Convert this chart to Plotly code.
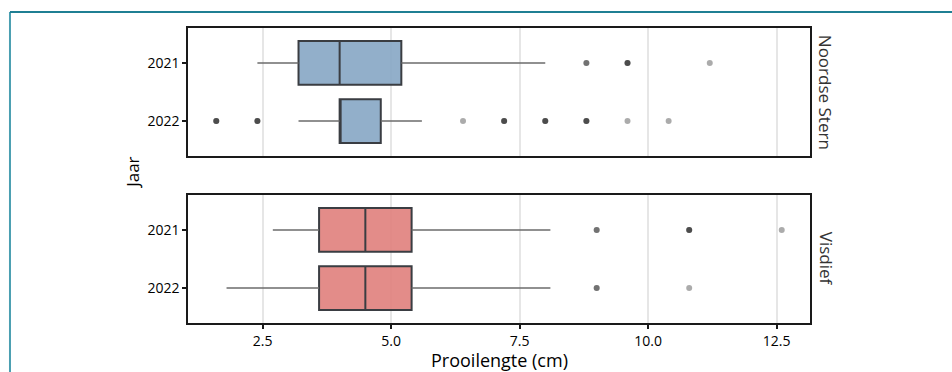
import plotly.graph_objects as go
from plotly.subplots import make_subplots

# Prey length summaries per tern species and year
years = ["2021", "2022"]
species = ["Noordse Stern", "Visdief"]

ns_lower = [2.4, 3.2]
ns_q1 = [3.2, 4.0]
ns_median = [4.0, 4.0]
ns_q3 = [5.2, 4.8]
ns_upper = [8.0, 5.6]

vd_lower = [2.7, 1.8]
vd_q1 = [3.6, 3.6]
vd_median = [4.5, 4.5]
vd_q3 = [5.4, 5.4]
vd_upper = [8.1, 8.1]

# Outlying prey lengths (repeated values are separate observations)
ns_out_2021 = [8.8, 8.8, 9.6, 9.6, 9.6, 11.2]
ns_out_2022 = [1.6, 1.6, 1.6, 2.4, 2.4, 2.4, 6.4, 7.2, 7.2, 7.2,
               8.0, 8.0, 8.0, 8.8, 8.8, 8.8, 9.6, 10.4]
vd_out_2021 = [9.0, 9.0, 10.8, 10.8, 10.8, 12.6]
vd_out_2022 = [9.0, 9.0, 10.8]

x_ticks = [2.5, 5.0, 7.5, 10.0, 12.5]
x_tick_labels = ["2.5", "5.0", "7.5", "10.0", "12.5"]

panels = [
    dict(name=species[0], lower=ns_lower, q1=ns_q1, median=ns_median, q3=ns_q3,
         upper=ns_upper, outliers=[ns_out_2021, ns_out_2022],
         fill="rgba(134,166,196,0.9)"),
    dict(name=species[1], lower=vd_lower, q1=vd_q1, median=vd_median, q3=vd_q3,
         upper=vd_upper, outliers=[vd_out_2021, vd_out_2022],
         fill="rgba(224,128,124,0.9)"),
]

FONT = "Open Sans"

fig = make_subplots(rows=2, cols=1)

for row, p in enumerate(panels, start=1):
    # whiskers
    wx, wy = [], []
    for i, yr in enumerate(years):
        wx += [p["lower"][i], p["q1"][i], None, p["q3"][i], p["upper"][i], None]
        wy += [yr, yr, None, yr, yr, None]
    fig.add_trace(go.Scatter(x=wx, y=wy, mode="lines",
                             line=dict(color="#6b6b6b", width=1.5),
                             hoverinfo="skip", showlegend=False), row=row, col=1)
    # boxes
    fig.add_trace(go.Box(y=years, q1=p["q1"], median=p["median"], q3=p["q3"],
                         lowerfence=p["q1"], upperfence=p["q3"],
                         orientation="h", width=0.75, whiskerwidth=0,
                         fillcolor=p["fill"], name=p["name"],
                         line=dict(color="#3a3d42", width=2),
                         boxpoints=False, showlegend=False), row=row, col=1)
    # outliers
    for i, yr in enumerate(years):
        vals = p["outliers"][i]
        fig.add_trace(go.Scatter(x=vals, y=[yr] * len(vals), mode="markers",
                                 marker=dict(color="black", size=6, opacity=0.33,
                                             line=dict(width=0)),
                                 showlegend=False), row=row, col=1)

axis_line = dict(showline=True, mirror=True, linecolor="#1a1a1a", linewidth=1.5)

for row in (1, 2):
    fig.update_xaxes(range=[1.05, 13.15], tickvals=x_ticks, ticktext=x_tick_labels,
                     showgrid=True, gridcolor="#e6e6e6", gridwidth=1.5,
                     zeroline=False, row=row, col=1, **axis_line)
    fig.update_yaxes(type="category", categoryorder="array", categoryarray=years,
                     range=[1.6, -0.6], showgrid=False, zeroline=False,
                     ticks="outside", ticklen=4, tickwidth=1.5, tickcolor="#1a1a1a",
                     tickfont=dict(family=FONT, size=14, color="black"),
                     row=row, col=1, **axis_line)

fig.update_xaxes(showticklabels=False, ticks="", row=1, col=1)
fig.update_xaxes(ticks="outside", ticklen=4, tickwidth=1.5, tickcolor="#1a1a1a",
                 tickfont=dict(family=FONT, size=14, color="black"), row=2, col=1)

fig.update_layout(
    width=952, height=372,
    margin=dict(l=188, r=142, t=28, b=49),
    paper_bgcolor="white", plot_bgcolor="white",
    xaxis=dict(domain=[0, 1]), xaxis2=dict(domain=[0, 1]),
    yaxis=dict(domain=[0.566, 1.0]), yaxis2=dict(domain=[0.0, 0.434]),
    font=dict(family=FONT, color="black"),
    showlegend=False,
)

annotations = [
    dict(text=species[0], x=1.026, y=0.783, textangle=90,
         font=dict(size=17, color="#333333")),
    dict(text=species[1], x=1.026, y=0.217, textangle=90,
         font=dict(size=17, color="#333333")),
    dict(text="Jaar", x=-0.0905, y=0.508, textangle=-90,
         font=dict(size=17, color="black")),
    dict(text="Prooilengte (cm)", x=0.5016, y=-0.126,
         font=dict(size=18, color="black")),
]
for a in annotations:
    fig.add_annotation(xref="paper", yref="paper", showarrow=False,
                       xanchor="center", yanchor="middle", **a)

# framing rule around the figure
fig.add_shape(type="line", xref="paper", yref="paper",
              x0=-0.2862, x1=-0.2862, y0=-0.2, y1=1.0542,
              line=dict(color="#4a9fb1", width=2))
fig.add_shape(type="line", xref="paper", yref="paper",
              x0=-0.2862, x1=1.3, y0=1.0542, y1=1.0542,
              line=dict(color="#1f7f93", width=2))

fig.write_html("out.html")
